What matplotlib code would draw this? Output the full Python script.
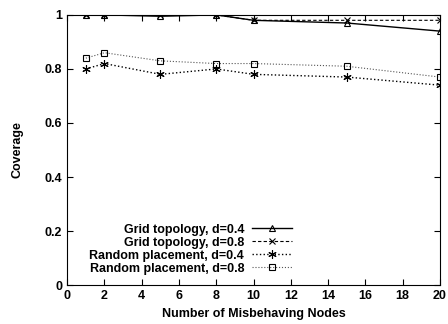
import matplotlib.pyplot as plt

plt.rcParams['font.family'] = ['Liberation Sans', 'DejaVu Sans']
plt.rcParams['font.weight'] = 'bold'

nodes = [1, 2, 5, 8, 10, 15, 20]
grid_04 = [1.0, 1.0, 0.995, 1.0, 0.98, 0.97, 0.94]
grid_08 = [1.0, 1.0, 1.0, 1.0, 0.98, 0.98, 0.98]
rand_04 = [0.80, 0.82, 0.78, 0.80, 0.78, 0.77, 0.74]
rand_08 = [0.84, 0.86, 0.83, 0.82, 0.82, 0.81, 0.77]

fig = plt.figure(figsize=(4.48, 3.24), dpi=100)
ax = fig.add_axes([0.15, 0.12, 0.832, 0.834])

ax.plot(nodes, grid_04, '-', color='black', lw=1, marker='^', ms=5, mfc='none', mew=0.8,
        label='Grid topology, d=0.4')
ax.plot(nodes, grid_08, '--', color='black', lw=0.8, marker='x', ms=5, mew=0.8,
        dashes=(3, 2), label='Grid topology, d=0.8')
ax.plot(nodes, rand_04, ':', color='black', lw=1, marker=(6, 2, 0), ms=6, mew=0.8,
        label='Random placement, d=0.4')
ax.plot(nodes, rand_08, ':', color='#555555', lw=0.8, marker='s', ms=5, mfc='none',
        mec='black', mew=0.8, label='Random placement, d=0.8')

ax.set_xlim(0, 20)
ax.set_ylim(0, 1)
ax.set_xticks(range(0, 21, 2))
ax.set_yticks([0, 0.2, 0.4, 0.6, 0.8, 1])
ax.set_yticklabels(['0', '0.2', '0.4', '0.6', '0.8', '1'])
ax.tick_params(direction='in', top=True, right=True, labelsize=9, length=4)
ax.set_xlabel('Number of Misbehaving Nodes', fontsize=9, fontweight='bold')
ax.set_ylabel('Coverage', fontsize=9, fontweight='bold', labelpad=15)

leg = ax.legend(loc='lower right', bbox_to_anchor=(0.617, 0.02), frameon=False,
                markerfirst=False, fontsize=9, handlelength=3.2, labelspacing=0.08,
                borderaxespad=0, handletextpad=0.65)

fig.savefig('out.png', dpi=100)
